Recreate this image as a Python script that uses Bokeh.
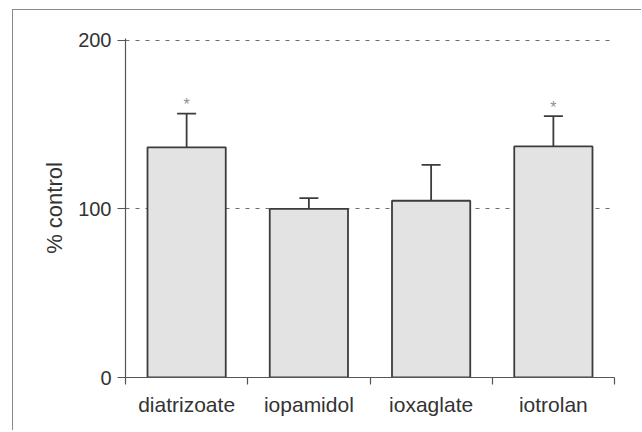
from bokeh.plotting import figure
from bokeh.models import ColumnDataSource, FixedTicker, Whisker, TeeHead, Range1d
from bokeh.core.properties import value
from bokeh.embed import file_html
from bokeh.resources import INLINE

# data
categories = ["diatrizoate", "iopamidol", "ioxaglate", "iotrolan"]
means = [136.5, 100.0, 104.8, 137.0]
sem = [20.0, 6.3, 21.3, 18.0]
signif = ["*", "", "", "*"]
y_ticks = [0, 100, 200]
grid_levels = [100, 200]

FONT = "Liberation Sans"
TXT = "#333333"
AX = "#555555"

xs = [i + 0.5 for i in range(len(categories))]
upper = [m + s for m, s in zip(means, sem)]
src = ColumnDataSource(dict(x=xs, top=means, upper=upper, sig=signif, cat=categories))

p = figure(output_backend="svg", toolbar_location=None,
           frame_width=489, frame_height=339,
           min_border_left=112, min_border_top=28, min_border_right=27, min_border_bottom=53,
           x_range=Range1d(0, len(categories)), y_range=Range1d(y_ticks[0], 201))
p.outline_line_color = None
p.background_fill_color = "white"
p.border_fill_color = "white"
p.styles = {"margin-left": "12px", "margin-top": "9px",
            "border-left": "1px solid #8a8a8a", "border-top": "1px solid #8a8a8a"}

# grid
p.xgrid.visible = False
p.ygrid.ticker = FixedTicker(ticks=grid_levels)
p.ygrid.grid_line_color = "#6e6e6e"
p.ygrid.grid_line_dash = "4 6"
p.ygrid.grid_line_width = 1.2

# bars
p.vbar(x="x", top="top", bottom=0, width=0.64, source=src,
       fill_color="#e3e3e3", line_color="#3c3c3c", line_width=1.8)

# error bars (upper only)
w = Whisker(source=src, base="x", upper="upper", lower="top", dimension="height",
            lower_head=None, upper_head=TeeHead(size=19, line_color="#3c3c3c", line_width=1.8),
            line_color="#3c3c3c", line_width=1.8)
p.add_layout(w)

# significance markers
p.text(x="x", y="upper", text="sig", source=src, text_align="center",
       text_baseline="alphabetic", y_offset=-9, text_font=value(FONT),
       text_font_size="16px", text_color="#8f8f8f")

# y axis
ya = p.yaxis[0]
ya.ticker = FixedTicker(ticks=y_ticks)
ya.axis_line_color = AX
ya.axis_line_width = 1.2
ya.major_tick_line_color = AX
ya.major_tick_line_width = 1.2
ya.major_tick_out = 8
ya.major_tick_in = 0
ya.minor_tick_line_color = None
ya.major_label_text_font = FONT
ya.major_label_text_font_size = "20px"
ya.major_label_text_color = TXT
ya.major_label_standoff = 6
ya.axis_label = "% control"
ya.axis_label_text_font = FONT
ya.axis_label_text_font_size = "22px"
ya.axis_label_text_font_style = "normal"
ya.axis_label_text_color = TXT
ya.axis_label_standoff = 8

# x axis: boundary ticks as minor ticks, category labels at centres
xa = p.xaxis[0]
xa.ticker = FixedTicker(ticks=xs, minor_ticks=list(range(len(categories) + 1)))
xa.major_label_overrides = {x: c for x, c in zip(xs, categories)}
xa.axis_line_color = AX
xa.axis_line_width = 1.2
xa.major_tick_line_color = None
xa.major_tick_out = 0
xa.major_tick_in = 0
xa.minor_tick_line_color = AX
xa.minor_tick_line_width = 1.2
xa.minor_tick_out = 7
xa.minor_tick_in = 0
xa.major_label_text_font = FONT
xa.major_label_text_font_size = "21px"
xa.major_label_text_color = TXT
xa.major_label_standoff = 8

open("out.html", "w").write(file_html(p, INLINE))
